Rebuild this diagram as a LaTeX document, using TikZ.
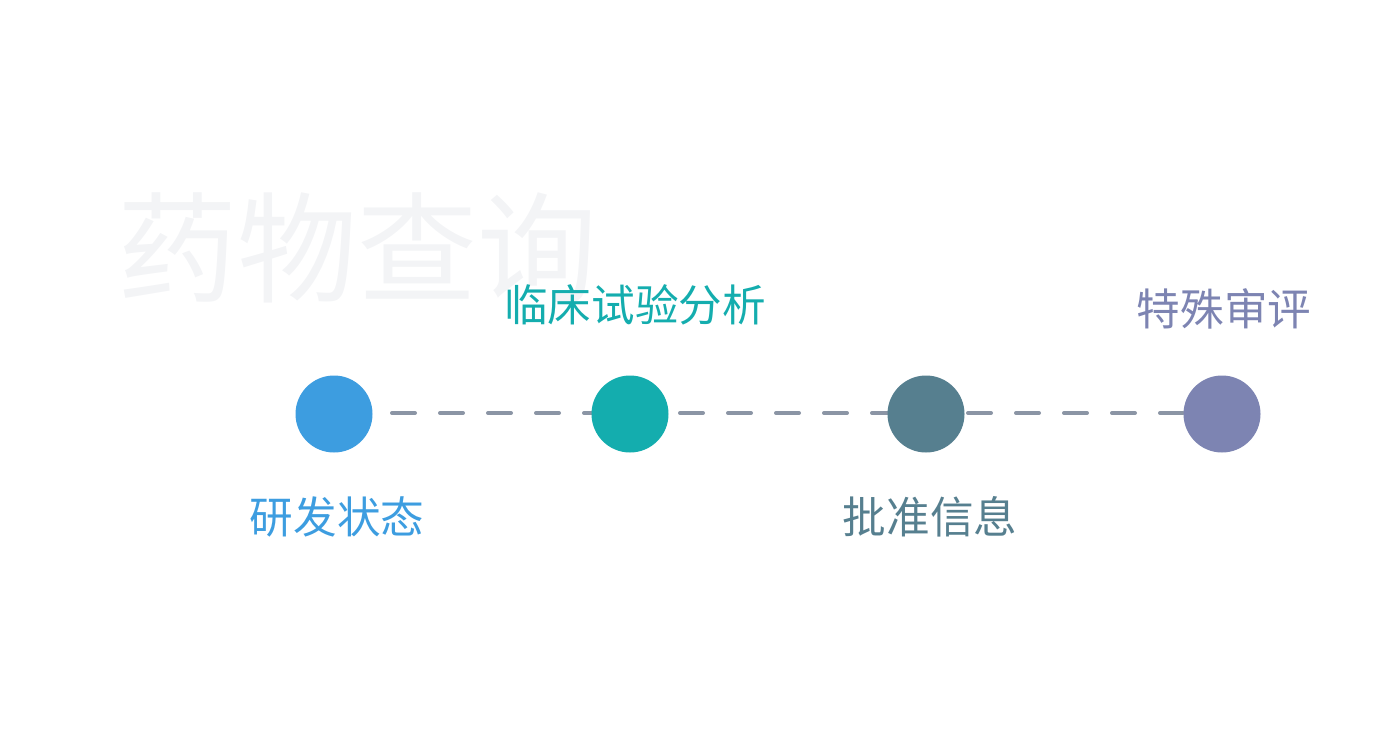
\documentclass[tikz,border=0pt]{standalone}
\usepackage{fontspec}
\newfontfamily\cjk{Noto Sans CJK SC}
\definecolor{cblue}{RGB}{61,157,224}
\definecolor{cteal}{RGB}{20,173,174}
\definecolor{cslate}{RGB}{86,127,143}
\definecolor{cpurple}{RGB}{125,132,178}
\definecolor{cdash}{RGB}{139,149,165}
\definecolor{cwater}{RGB}{243,244,246}
\begin{document}
\begin{tikzpicture}[x=1pt,y=-1pt,
  dot/.style={circle,minimum size=77pt,inner sep=0pt,draw=none},
  lbl/.style={inner sep=0pt,font=\cjk\fontsize{43.6}{43.6}\selectfont},
  link/.style={draw=cdash,line width=4pt,line cap=round,dash pattern=on 23pt off 25pt}]
\useasboundingbox (0,0) rectangle (1380,750);
\node[inner sep=0pt,text=cwater,font=\cjk\fontsize{120}{120}\selectfont] (wm) at (357,248) {药物查询};
\coordinate (ls) at (392,413);
\coordinate (le) at (1190,413);
\draw[link] (ls) -- (le);
\node[dot,fill=cblue] (n1) at (334,414) {};
\node[dot,fill=cteal] (n2) at (630,414) {};
\node[dot,fill=cslate] (n3) at (926,414) {};
\node[dot,fill=cpurple] (n4) at (1222,414) {};
\node[lbl,text=cblue] (t1) at (337,517) {研发状态};
\node[lbl,text=cteal] (t2) at (635,305) {临床试验分析};
\node[lbl,text=cslate] (t3) at (930,517) {批准信息};
\node[lbl,text=cpurple] (t4) at (1224,309) {特殊审评};
\end{tikzpicture}
\end{document}
